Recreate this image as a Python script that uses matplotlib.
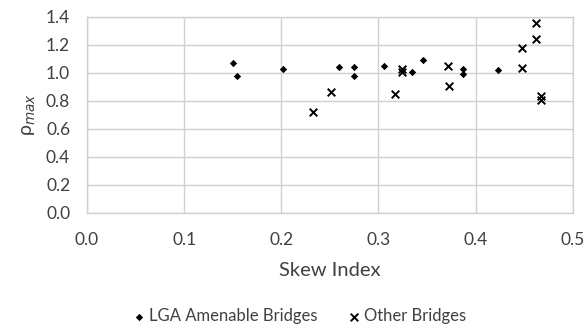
import matplotlib.pyplot as plt

plt.rcParams["font.family"] = ["Lato", "DejaVu Sans"]

# LGA amenable bridges
lga_skew = [0.150, 0.154, 0.202, 0.259, 0.275, 0.275, 0.306, 0.334, 0.346, 0.387, 0.387, 0.423]
lga_rho = [1.07, 0.975, 1.03, 1.043, 1.038, 0.976, 1.05, 1.002, 1.09, 1.024, 0.988, 1.021]

# other bridges
oth_skew = [0.233, 0.251, 0.317, 0.324, 0.324, 0.371, 0.373, 0.448, 0.448, 0.462, 0.462, 0.467, 0.467]
oth_rho = [0.719, 0.861, 0.852, 1.029, 1.004, 1.045, 0.907, 1.176, 1.036, 1.352, 1.238, 0.833, 0.809]

x_ticks = [0.0, 0.1, 0.2, 0.3, 0.4, 0.5]
y_ticks = [0.0, 0.2, 0.4, 0.6, 0.8, 1.0, 1.2, 1.4]

fig = plt.figure(figsize=(5.87, 3.28), dpi=100)
ax = fig.add_axes([0.148, 0.351, 0.828, 0.598])

ax.scatter(lga_skew, lga_rho, marker="D", s=14, color="black", linewidths=0,
           label="LGA Amenable Bridges", zorder=3)
ax.scatter(oth_skew, oth_rho, marker="x", s=30, color="black", linewidths=1.4,
           label="Other Bridges", zorder=3)

ax.set_xlim(0, 0.5)
ax.set_ylim(0, 1.4)
ax.set_xticks(x_ticks)
ax.set_yticks(y_ticks)
ax.set_xticklabels([f"{v:.1f}" for v in x_ticks])
ax.set_yticklabels([f"{v:.1f}" for v in y_ticks])
ax.tick_params(length=0, labelsize=12.5, colors="#404040")
ax.tick_params(axis="x", pad=14)
ax.tick_params(axis="y", pad=12)
ax.grid(True, color="#d0d0d0", linewidth=1)
ax.set_axisbelow(True)
for sp in ax.spines.values():
    sp.set_color("#d0d0d0")
    sp.set_linewidth(1)

ax.set_xlabel("Skew Index", fontsize=14.5, color="#404040", labelpad=10)
ax.set_ylabel(r"ρ$_{max}$", fontsize=14, color="#404040", labelpad=6)

fig.legend(loc="center", bbox_to_anchor=(298 / 587, 1 - 316 / 328), ncol=2,
           frameon=False, fontsize=12, handletextpad=0.1, columnspacing=1.7,
           handlelength=1.0, labelcolor="#404040", borderpad=0.2)

fig.savefig("out.png", dpi=100)
